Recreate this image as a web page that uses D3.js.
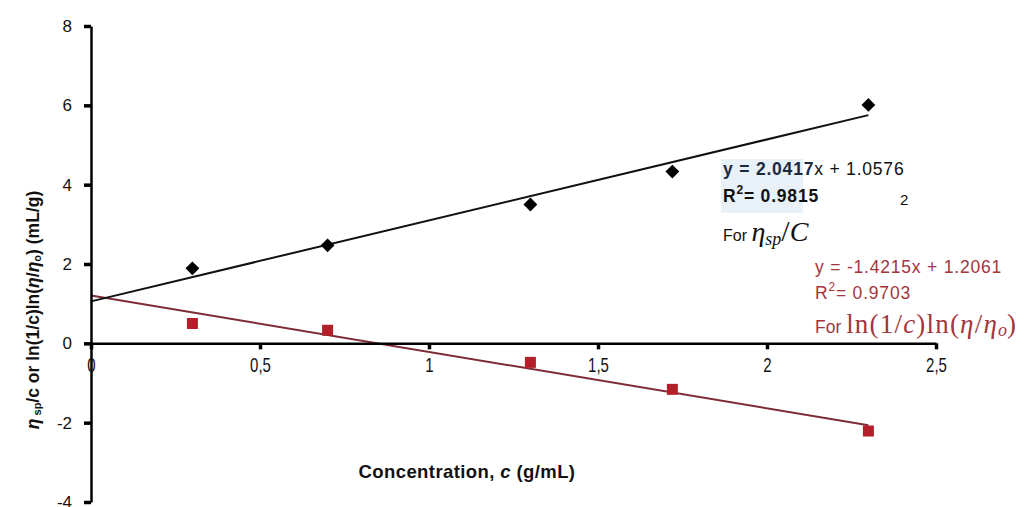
<!DOCTYPE html>
<html>
<head>
<meta charset="utf-8">
<script src="https://cdn.jsdelivr.net/npm/d3@7"></script>
<style>
  html, body { margin: 0; padding: 0; background: #fff; }
  svg { display: block; }
  text { font-family: "Liberation Sans", Arial, sans-serif; }
</style>
</head>
<body>
<svg id="chart" width="1034" height="507"></svg>
<script>
// Concentration (g/mL)
const concentration = [0.3, 0.7, 1.3, 1.72, 2.3];
// Reduced viscosity eta_sp / c (mL/g)
const reducedViscosity = [1.89, 2.47, 3.5, 4.33, 6.01];
// Inherent viscosity ln(1/c) ln(eta/eta_o) (mL/g)
const inherentViscosity = [0.5, 0.33, -0.48, -1.16, -2.21];

// Linear fits shown in the annotations
const fitReduced = { slope: 2.0417, intercept: 1.0576, r2: 0.9815 };
const fitInherent = { slope: -1.4215, intercept: 1.2061, r2: 0.9703 };

const xTicks = [0, 0.5, 1, 1.5, 2, 2.5];
const yTicks = [-4, -2, 0, 2, 4, 6, 8];

const svg = d3.select("#chart");

const x = d3.scaleLinear().domain([0, 2.5]).range([91, 936]);
const y = d3.scaleLinear().domain([-4, 8]).range([502, 26]);

const fmtComma = d => String(d).replace(".", ",");
const fmt4 = v => (v < 0 ? "-" : "") + Math.abs(v).toFixed(4);

// Trend lines over the measured range
const fitLine = fit => d3.line()
  .x(d => x(d))
  .y(d => y(fit.slope * d + fit.intercept));
const xFitRange = [0, d3.max(concentration)];

svg.append("path")
  .attr("d", fitLine(fitInherent)(xFitRange))
  .attr("fill", "none")
  .attr("stroke", "#7e2c33")
  .attr("stroke-width", 2);

svg.append("path")
  .attr("d", fitLine(fitReduced)(xFitRange))
  .attr("fill", "none")
  .attr("stroke", "#111")
  .attr("stroke-width", 2);

// Axes
const yAxis = svg.append("g")
  .attr("transform", `translate(${x(0)},0)`)
  .call(d3.axisLeft(y).tickValues(yTicks).tickSize(7).tickSizeOuter(0).tickPadding(12)
    .tickFormat(d => d));
const xAxis = svg.append("g")
  .attr("transform", `translate(0,${y(0)})`)
  .call(d3.axisBottom(x).tickValues(xTicks).tickSize(6).tickSizeOuter(0).tickPadding(8)
    .tickFormat(fmtComma));

[yAxis, xAxis].forEach(g => {
  g.select(".domain").attr("stroke", "#000").attr("stroke-width", 2.5);
  g.selectAll(".tick line").attr("stroke", "#000").attr("stroke-width", 3.5);
});
yAxis.selectAll(".tick text")
  .attr("font-size", 17).attr("fill", "#111")
  .style("font-family", "'Liberation Sans', Arial, sans-serif");
xAxis.selectAll(".tick text")
  .attr("font-size", 20).attr("fill", "#111")
  .attr("transform", "scale(0.75,1)")
  .style("font-family", "'Liberation Sans', Arial, sans-serif");

// Data markers
svg.append("g").selectAll("path")
  .data(concentration.map((c, i) => [c, inherentViscosity[i]]))
  .join("path")
  .attr("d", d3.symbol(d3.symbolSquare, 121))
  .attr("transform", d => `translate(${x(d[0])},${y(d[1])})`)
  .attr("fill", "#b3202a");

svg.append("g").selectAll("path")
  .data(concentration.map((c, i) => [c, reducedViscosity[i]]))
  .join("path")
  .attr("d", d3.symbol(d3.symbolSquare, 96))
  .attr("transform", d => `translate(${x(d[0])},${y(d[1])}) rotate(45)`)
  .attr("fill", "#000");

// Axis titles
svg.append("text")
  .attr("x", 467).attr("y", 478)
  .attr("text-anchor", "middle")
  .attr("font-size", 18.5).attr("font-weight", "bold").attr("fill", "#111")
  .attr("letter-spacing", 0.4)
  .call(t => {
    t.append("tspan").text("Concentration, ");
    t.append("tspan").attr("font-style", "italic").text("c");
    t.append("tspan").text(" (g/mL)");
  });

svg.append("text")
  .attr("transform", "translate(39,310) rotate(-90)")
  .attr("text-anchor", "middle")
  .attr("font-size", 17.5).attr("font-weight", "bold").attr("fill", "#111")
  .call(t => {
    t.append("tspan").attr("font-style", "italic").text("η");
    t.append("tspan").attr("font-size", 11).attr("dy", 2).text(" sp");
    t.append("tspan").attr("dy", -2).text("/c or ln(1/c)ln(");
    t.append("tspan").attr("font-style", "italic").text("η");
    t.append("tspan").text("/");
    t.append("tspan").attr("font-style", "italic").text("η");
    t.append("tspan").attr("font-size", 11).attr("dy", 2).text("o");
    t.append("tspan").attr("dy", -2).text(") (mL/g)");
  });

// Fit annotations: reduced viscosity
svg.append("rect")
  .attr("x", 721).attr("y", 159).attr("width", 82).attr("height", 54)
  .attr("fill", "#e8f0f8");

const eqA = svg.append("text").attr("x", 723).attr("y", 175)
  .attr("font-size", 17.5).attr("letter-spacing", 0.8).attr("fill", "#111");
eqA.append("tspan").attr("font-weight", "bold").attr("fill", "#1b2a44")
  .text(`y = ${fmt4(fitReduced.slope)}`);
eqA.append("tspan").text(`x + ${fmt4(fitReduced.intercept)}`);

const r2A = svg.append("text").attr("x", 723).attr("y", 202)
  .attr("font-size", 17.5).attr("letter-spacing", 0.8).attr("fill", "#111");
r2A.append("tspan").attr("font-weight", "bold").text("R");
r2A.append("tspan").attr("font-size", 12).attr("dy", -8).attr("font-weight", "bold").text("2");
r2A.append("tspan").attr("dy", 8).attr("font-weight", "bold").text(`= ${fitReduced.r2}`);

svg.append("text").attr("x", 900).attr("y", 205)
  .attr("font-size", 15).attr("fill", "#111").text("2");

const forA = svg.append("text").attr("x", 723).attr("y", 241)
  .attr("font-size", 16).attr("fill", "#111");
forA.append("tspan").text("For ");
forA.append("tspan").attr("font-family", "'Liberation Serif', serif").attr("font-style", "italic")
  .attr("font-size", 28).text("η");
forA.append("tspan").attr("font-family", "'Liberation Serif', serif").attr("font-style", "italic")
  .attr("font-size", 18).attr("dy", 4).text("sp");
forA.append("tspan").attr("font-family", "'Liberation Serif', serif")
  .attr("font-size", 30).attr("dy", -4).text("/");
forA.append("tspan").attr("font-family", "'Liberation Serif', serif").attr("font-style", "italic")
  .attr("font-size", 28).text("C");

// Fit annotations: inherent viscosity
const redText = "#a3353d";
svg.append("text").attr("x", 815).attr("y", 273)
  .attr("font-size", 17.5).attr("letter-spacing", 0.8).attr("fill", redText)
  .text(`y = ${fmt4(fitInherent.slope)}x + ${fmt4(fitInherent.intercept)}`);

const r2B = svg.append("text").attr("x", 815).attr("y", 299)
  .attr("font-size", 17.5).attr("letter-spacing", 0.8).attr("fill", redText);
r2B.append("tspan").text("R");
r2B.append("tspan").attr("font-size", 12).attr("dy", -8).text("2");
r2B.append("tspan").attr("dy", 8).text(`= ${fitInherent.r2}`);

const serif = "'Liberation Serif', serif";
const forB = svg.append("text").attr("x", 815).attr("y", 333)
  .attr("font-size", 17.5).attr("fill", redText);
forB.append("tspan").text("For  ");
const lnPart = (txt, italic) => forB.append("tspan")
  .attr("font-family", serif).attr("font-size", 27).attr("letter-spacing", 1.2)
  .attr("font-style", italic ? "italic" : "normal").text(txt);
lnPart("ln(1/");
lnPart("c", true);
lnPart(")ln(");
lnPart("η", true);
lnPart("/");
lnPart("η", true);
forB.append("tspan").attr("font-family", serif).attr("font-style", "italic")
  .attr("font-size", 18).attr("dy", 3).text("o");
forB.append("tspan").attr("font-family", serif).attr("font-size", 27)
  .attr("dy", -3).text(")");
</script>
</body>
</html>
